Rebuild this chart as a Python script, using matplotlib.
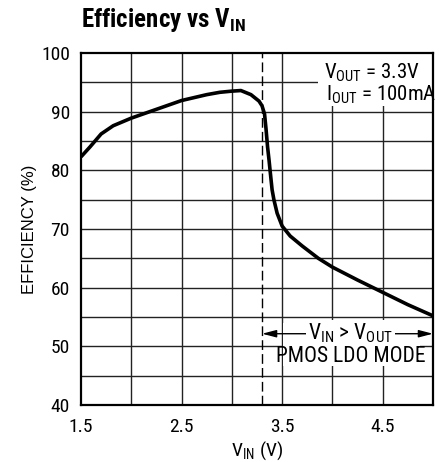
import matplotlib
matplotlib.use("Agg")
import matplotlib.pyplot as plt
from matplotlib import font_manager
from matplotlib.patches import Rectangle

# ---- data ----
vin = [1.5, 1.59, 1.7, 1.82, 2.0, 2.25, 2.5, 2.75, 2.88, 3.0, 3.09, 3.19, 3.27,
       3.30, 3.325, 3.34, 3.355, 3.37, 3.38, 3.40, 3.418, 3.45, 3.50, 3.58, 3.70,
       3.86, 4.0, 4.25, 4.5, 4.75, 5.0]
eff = [82.3, 84.0, 86.2, 87.6, 88.9, 90.4, 91.9, 92.9, 93.3, 93.5, 93.6, 92.9, 91.8,
       91.0, 89.6, 87.0, 84.0, 81.7, 80.0, 76.7, 75.0, 72.7, 70.5, 68.8, 67.1,
       65.0, 63.5, 61.3, 59.2, 57.1, 55.2]
xticks_labeled = [1.5, 2.5, 3.5, 4.5]
xgrid = [2.0, 2.5, 3.0, 3.5, 4.0, 4.5]
yticks_labeled = [40, 50, 60, 70, 80, 90, 100]
ygrid = [45, 50, 55, 60, 65, 70, 75, 80, 85, 90, 95]
vout = 3.3


def pick(cands):
    for c in cands:
        try:
            font_manager.findfont(font_manager.FontProperties(family=c),
                                  fallback_to_default=False)
            return c
        except Exception:
            pass
    return 'DejaVu Sans'


FONT = pick(['Roboto Condensed', 'Archivo Narrow', 'PT Sans Narrow',
             'Sofia Sans Condensed', 'Liberation Sans'])
REG = pick(['Liberation Sans', 'Arimo', 'DejaVu Sans'])

plt.rcParams['font.family'] = [FONT, 'DejaVu Sans']
plt.rcParams['mathtext.fontset'] = 'custom'
plt.rcParams['mathtext.rm'] = FONT
plt.rcParams['mathtext.bf'] = FONT + ':bold'

fig = plt.figure(figsize=(4.42, 4.62), dpi=100)
ax = fig.add_axes([81/442, 57/462, 352/442, 352/462])

ax.set_xlim(1.5, 5.0)
ax.set_ylim(40, 100)

for g in xgrid:
    ax.axvline(g, color='#222222', lw=1.0, zorder=1)
for g in ygrid:
    ax.axhline(g, color='#222222', lw=1.0, zorder=1)

ax.set_xticks(xticks_labeled)
ax.set_xticklabels([f"{v:.1f}" for v in xticks_labeled])
ax.set_yticks(yticks_labeled)
ax.set_yticklabels([str(v) for v in yticks_labeled])
ax.tick_params(length=0, labelsize=14, pad=8)
ax.tick_params(axis='x', pad=9)
for s in ax.spines.values():
    s.set_linewidth(1.6)
    s.set_color('black')

# dashed V_OUT line
ax.axvline(vout, color='black', lw=1.0, dashes=(7, 3), zorder=2)

# white box top right
ax.add_patch(Rectangle((3.86, 91.0), 5.0 - 3.86, 100 - 91.0, facecolor='white',
                       edgecolor='none', zorder=2.5))
ax.text(3.92, 95.6, r'V$_{\mathrm{OUT}}$ = 3.3V', fontsize=15, ha='left',
        va='baseline', zorder=3)
ax.text(3.94, 91.9, r'I$_{\mathrm{OUT}}$ = 100mA', fontsize=15, ha='left',
        va='baseline', zorder=3)

# curve
ax.plot(vin, eff, color='black', lw=2.6, solid_joinstyle='round',
        solid_capstyle='butt', zorder=4)

# bottom annotation
ax.add_patch(Rectangle((3.51, 46.7), 4.87 - 3.51, 54.0 - 46.7, facecolor='white',
                       edgecolor='none', zorder=2.5))
ax.annotate('', xy=(vout, 52.15), xytext=(5.0, 52.15),
            arrowprops=dict(arrowstyle='<|-|>,head_length=0.85,head_width=0.22',
                            color='black', lw=1.0, shrinkA=0, shrinkB=0),
            zorder=3)
ax.text(4.18, 51.1, r'V$_{\mathrm{IN}}$ > V$_{\mathrm{OUT}}$', fontsize=15.5,
        ha='center', va='baseline', zorder=3.5,
        bbox=dict(facecolor='white', edgecolor='none', pad=1.5))
ax.text(4.185, 47.4, 'PMOS LDO MODE', fontsize=15.5, ha='center', va='baseline',
        zorder=3.5)

ax.set_xlabel(r'V$_{\mathrm{IN}}$ (V)', fontsize=14, labelpad=3)
ax.set_ylabel('EFFICIENCY (%)', fontsize=12, family=[REG, 'DejaVu Sans'],
              labelpad=3)

fig.text(81/442, 1 - 27/462, r'Efficiency vs V$_{\mathbf{IN}}$', fontsize=18,
         fontweight='bold', ha='left', va='baseline')

fig.savefig('out.png', dpi=100)
